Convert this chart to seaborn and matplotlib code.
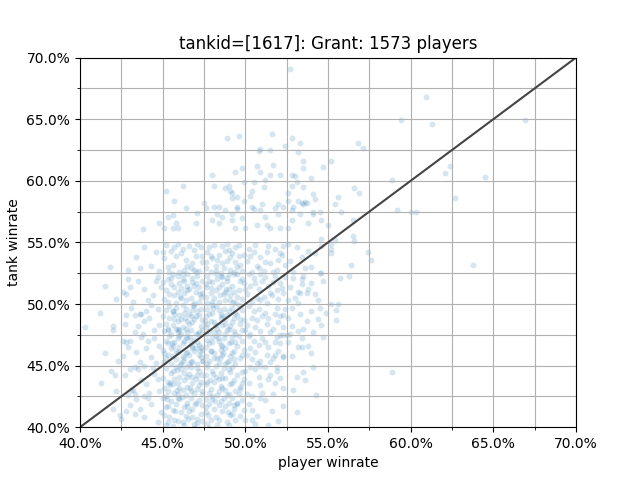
import matplotlib
matplotlib.use("Agg")

import numpy as np
import pandas as pd
import seaborn as sns
from matplotlib import pyplot as plt
from matplotlib.ticker import MultipleLocator, PercentFormatter

tank_id = 1617
tank_name = "Grant"
n_players = 1573
axis_range = (0.40, 0.70)

# sparse points around the cloud (winrates in %)
outer_player = [
    52.7, 60.9, 59.4, 61.3, 66.9, 56.8, 57.1, 62.4, 62.1, 64.5,
    58.9, 56.6, 56.9, 62.7, 59.2, 60.0, 60.3, 55.8, 56.5, 56.5,
    56.6, 55.4, 55.2, 57.4, 57.6, 56.4, 56.3, 55.7, 63.8, 55.2,
    55.6, 55.5, 55.5, 58.9, 51.6, 52.8, 53.3, 52.4, 50.9, 50.8,
    51.5, 53.2, 53.5, 55.2, 50.7, 51.7, 53.5, 54.7, 50.9, 51.5,
    52.1, 52.8, 53.0, 54.0, 50.5, 53.1, 51.1, 52.8, 53.5, 55.6,
    54.2, 52.6, 53.2, 53.6, 55.4, 54.1, 51.8, 52.3, 52.9, 53.5,
    49.6, 48.9, 48.0, 49.8, 49.4, 51.2, 49.9, 50.4, 49.1, 49.2,
    54.1, 50.3, 49.5, 49.9, 49.2, 53.4, 53.7, 52.6, 51.0, 52.0,
    49.5, 49.5, 50.4, 50.5, 50.9, 51.2, 52.0, 52.8, 52.8, 54.5,
    54.1, 53.3, 54.6, 55.0, 53.8, 49.2, 49.2, 49.8, 49.4, 50.0,
    50.7, 51.3, 51.5, 52.1, 52.6, 45.2, 46.2, 45.7, 46.4, 45.6,
    45.3, 44.8, 45.8, 47.5, 48.1, 48.8, 49.0, 47.6, 48.1, 48.4,
    47.1, 48.3, 48.8, 48.6, 48.0, 48.4, 47.0, 45.1, 45.6, 45.9,
    43.8, 54.5, 54.6, 53.4, 53.4, 54.0, 53.2, 53.7, 53.2, 52.8,
    54.0, 54.5, 52.3, 52.6, 54.4, 53.3, 55.2, 55.2, 54.6, 49.5,
    49.3, 49.2, 50.4, 50.0, 50.4, 50.6, 53.2, 53.4, 53.8, 53.1,
    53.5, 54.1, 51.5, 51.8, 51.9, 52.3, 51.8, 52.1, 52.3, 52.5,
    50.9, 50.0, 50.1, 49.8, 49.7, 42.0, 42.1, 42.6, 43.0, 43.6,
    42.4, 42.5, 43.3, 43.6, 43.7, 42.9, 42.6, 43.0, 43.2, 43.3,
    43.0, 43.3, 40.3,
]
outer_tank = [
    69.1, 66.8, 64.9, 64.6, 64.9, 63.1, 62.7, 61.2, 60.6, 60.3,
    60.1, 59.4, 59.0, 58.6, 57.6, 57.5, 57.5, 57.5, 56.8, 55.5,
    55.1, 55.2, 54.1, 54.2, 53.6, 53.2, 52.3, 52.1, 53.2, 50.0,
    50.0, 49.5, 48.7, 44.5, 63.8, 63.5, 63.1, 62.8, 62.6, 62.4,
    62.5, 62.3, 61.6, 61.6, 61.2, 61.3, 61.0, 61.1, 60.7, 60.5,
    60.5, 60.5, 60.4, 60.2, 59.9, 59.9, 59.5, 59.6, 59.5, 58.7,
    58.5, 59.0, 58.4, 58.3, 58.1, 57.5, 57.8, 57.9, 57.9, 58.1,
    63.6, 63.5, 60.5, 61.0, 60.7, 60.1, 59.9, 59.2, 59.2, 59.0,
    58.9, 58.8, 58.7, 58.4, 58.6, 58.2, 58.2, 58.4, 58.1, 58.1,
    57.9, 57.7, 57.9, 57.7, 57.6, 57.1, 57.3, 57.6, 56.8, 57.5,
    57.3, 57.3, 56.8, 56.4, 56.6, 57.3, 56.8, 57.0, 56.2, 56.2,
    56.4, 56.4, 56.2, 56.2, 56.2, 59.2, 59.6, 58.4, 57.8, 57.2,
    57.1, 56.6, 56.6, 58.2, 59.6, 59.4, 59.6, 57.8, 57.9, 57.9,
    57.4, 57.3, 57.6, 57.1, 56.8, 56.6, 56.6, 56.2, 56.2, 56.2,
    56.1, 52.5, 52.5, 52.0, 51.6, 51.7, 51.0, 50.9, 50.1, 49.7,
    49.4, 49.7, 49.1, 48.9, 48.8, 49.2, 54.9, 54.5, 55.3, 42.0,
    41.5, 41.1, 41.4, 40.6, 40.6, 40.3, 46.5, 46.5, 46.6, 44.1,
    44.5, 44.9, 44.2, 43.6, 44.9, 45.8, 45.9, 47.5, 47.5, 47.5,
    45.0, 44.6, 42.7, 43.6, 43.1, 48.2, 44.2, 51.0, 51.4, 52.9,
    41.0, 40.7, 49.1, 49.2, 49.2, 46.5, 47.0, 44.7, 43.0, 42.7,
    41.8, 41.1, 48.1,
]

# dense core, estimated cell by cell (same order in both lists)
core_player = [
    # tank 52.5-55
    41.8,
    43.9, 44.3, 44.8, 43.4, 44.6, 42.9,
    45.2, 45.6, 46.1, 46.7, 47.3, 45.9, 46.4, 47.0, 45.4, 46.9,
    45.8, 47.2, 46.3, 45.1, 46.6, 47.4, 45.5, 46.0, 46.8, 47.1,
    45.3, 46.2, 47.0, 45.7, 46.5, 47.4, 45.0, 46.9,
    47.7, 48.2, 48.6, 49.1, 49.6, 47.9, 48.4, 48.9, 49.4, 49.8,
    47.6, 48.1, 48.7, 49.2, 49.7, 48.0, 48.5, 49.0, 49.5, 47.8,
    48.3, 48.8, 49.3, 49.9, 47.6, 48.6, 49.1, 49.6, 48.2, 48.9,
    49.4, 47.9,
    50.2, 50.7, 51.3, 51.9, 52.3, 50.4, 50.9, 51.5, 52.1, 50.1,
    50.6, 51.1, 51.8, 52.4, 50.3, 50.8, 51.4, 52.0, 50.5, 51.2,
    51.7, 52.2,
    52.7, 53.1, 53.6, 54.2, 52.9, 53.4, 54.0, 54.6, 52.6, 53.8,
    # tank 50-52.5
    41.5, 42.2,
    42.8, 43.5, 44.1, 44.7, 43.9, 44.4, 42.9, 44.9, 43.2, 44.6,
    45.1, 45.5, 45.9, 46.3, 46.8, 47.2, 45.3, 45.7, 46.1, 46.5,
    47.0, 47.4, 45.2, 45.8, 46.2, 46.7, 47.1, 45.4, 46.0, 46.6,
    47.3, 45.6, 46.4, 46.9, 45.0, 45.9, 46.3, 47.2, 45.3, 46.8,
    45.7, 46.1, 46.5, 47.4, 45.5, 46.9, 46.2, 47.0,
    47.6, 48.0, 48.4, 48.9, 49.3, 49.8, 47.7, 48.2, 48.6, 49.1,
    49.5, 47.9, 48.3, 48.8, 49.2, 49.7, 47.6, 48.1, 48.5, 49.0,
    49.4, 49.9, 47.8, 48.7, 49.6, 48.0, 48.4, 48.9, 49.3, 47.7,
    48.6, 49.1, 49.8, 48.2, 47.9, 49.5, 48.8, 49.0,
    50.1, 50.5, 50.9, 51.4, 51.8, 52.3, 50.3, 50.7, 51.2, 51.6,
    52.1, 50.2, 50.8, 51.3, 51.9, 52.4, 50.4, 51.0, 51.5, 52.0,
    50.6, 51.1, 51.7, 52.2, 50.0, 50.9,
    52.7, 53.0, 53.5, 54.2, 52.9, 53.8, 54.7, 52.6, 53.3, 54.4,
    # tank 47.5-50
    41.2, 42.0,
    42.7, 43.1, 43.8, 44.2, 44.7, 43.5, 44.0, 44.5, 42.8, 43.9,
    44.8, 43.3, 44.3,
    45.1, 45.4, 45.8, 46.2, 46.6, 47.0, 47.4, 45.2, 45.6, 46.0,
    46.4, 46.8, 47.2, 45.3, 45.7, 46.1, 46.5, 46.9, 47.3, 45.0,
    45.5, 45.9, 46.3, 46.7, 47.1, 45.2, 45.8, 46.2, 46.6, 47.0,
    47.4, 45.4, 46.0, 46.4, 46.8, 47.2, 45.6, 46.1, 46.9, 45.3,
    45.7, 46.5, 47.3, 45.9, 46.7,
    47.6, 48.0, 48.4, 48.8, 49.2, 49.7, 47.7, 48.1, 48.5, 48.9,
    49.3, 49.8, 47.8, 48.2, 48.6, 49.0, 49.4, 49.9, 47.6, 48.3,
    48.7, 49.1, 49.5, 47.9, 48.4, 48.8, 49.2, 49.6, 47.7, 48.1,
    48.5, 49.0, 49.4, 49.8, 48.0, 48.6, 49.3, 47.8, 48.2, 48.9,
    49.7, 47.6,
    50.1, 50.5, 50.9, 51.4, 51.9, 52.3, 50.3, 50.7, 51.2, 51.7,
    52.1, 50.2, 50.6, 51.0, 51.5, 52.0, 52.4, 50.4, 50.8, 51.3,
    51.8, 50.0,
    52.8, 53.2, 53.7, 54.1, 54.6, 52.7, 53.5, 54.9,
    # tank 45-47.5
    41.5, 42.3,
    42.6, 43.0, 43.6, 44.0, 44.5, 43.4, 43.9, 44.3, 44.8, 42.8,
    43.7, 44.6, 44.1,
    45.1, 45.5, 45.9, 46.3, 46.7, 47.1, 47.4, 45.2, 45.6, 46.0,
    46.4, 46.8, 47.2, 45.3, 45.7, 46.1, 46.5, 46.9, 47.3, 45.0,
    45.4, 45.8, 46.2, 46.6, 47.0, 45.2, 45.9, 46.3, 46.7, 47.1,
    47.4, 45.5, 46.0, 46.4, 46.8, 47.2, 45.6, 46.2, 46.9, 45.3,
    45.8, 46.5, 47.3, 45.1, 46.6,
    47.6, 48.0, 48.4, 48.8, 49.2, 49.7, 47.7, 48.1, 48.5, 48.9,
    49.3, 49.8, 47.8, 48.2, 48.6, 49.0, 49.4, 49.9, 47.6, 48.3,
    48.7, 49.1, 49.5, 47.9, 48.4, 48.8, 49.2, 49.6, 47.7, 48.1,
    48.5, 49.0, 49.4, 49.8, 48.0, 48.6, 49.3, 47.8,
    50.1, 50.5, 50.9, 51.4, 51.9, 52.3, 50.3, 50.7, 51.2, 51.7,
    52.1, 50.2, 50.6, 51.0, 51.5, 52.0, 50.4, 50.8, 51.3, 51.8,
    52.8, 53.4, 54.0, 52.6, 54.7,
    # tank 42.5-45
    41.3, 41.9, 42.2,
    42.7, 43.1, 43.5, 44.0, 44.5, 42.9, 43.7, 44.2, 44.7, 43.3,
    44.4, 43.9, 44.8,
    45.1, 45.5, 45.9, 46.3, 46.7, 47.1, 47.4, 45.2, 45.6, 46.0,
    46.4, 46.8, 47.2, 45.3, 45.7, 46.1, 46.5, 46.9, 47.3, 45.0,
    45.4, 45.8, 46.2, 46.6, 47.0, 45.2, 45.9, 46.3, 46.7, 47.1,
    47.4, 45.6, 46.0, 46.8, 45.3, 46.4, 47.2, 45.7,
    47.6, 48.0, 48.4, 48.8, 49.2, 49.7, 47.7, 48.1, 48.5, 48.9,
    49.3, 49.8, 47.8, 48.2, 48.6, 49.0, 49.4, 49.9, 47.6, 48.3,
    48.7, 49.1, 49.5, 47.9, 48.4, 48.8, 49.2, 49.6, 48.0, 48.6,
    47.7, 49.0,
    50.2, 50.6, 51.0, 51.4, 51.9, 52.3, 50.4, 50.8, 51.2, 51.7,
    52.1, 50.3, 50.9,
    52.9, 53.6, 54.3,
    # tank 40-42.5
    42.0,
    42.8, 43.4, 43.9, 44.3, 44.7, 43.6, 44.1, 44.9,
    45.1, 45.5, 45.9, 46.3, 46.7, 47.1, 47.4, 45.2, 45.6, 46.0,
    46.4, 46.8, 47.2, 45.3, 45.7, 46.1, 46.5, 46.9, 47.3, 45.0,
    45.4, 45.8, 46.2, 46.6, 47.0, 47.4, 45.2, 45.9, 46.3, 46.8,
    45.6, 46.5,
    47.6, 48.0, 48.4, 48.8, 49.2, 49.7, 47.7, 48.1, 48.5, 48.9,
    49.3, 49.8, 47.8, 48.2, 48.6, 49.0, 49.4, 49.9, 47.6, 48.3,
    48.7, 49.1, 49.5, 47.9, 48.4, 49.0,
    50.2, 50.7, 51.2, 51.6, 52.0, 50.9, 51.4, 52.3,
    53.1,
    # just under the axis floor
    45.4, 46.0, 46.9, 47.8, 48.6,
]
core_tank = [
    # tank 52.5-55
    53.0,
    54.6, 53.1, 52.7, 53.8, 54.2, 52.8,
    54.8, 53.2, 54.1, 52.9, 54.6, 54.9, 53.6, 53.9, 52.6, 54.4,
    53.9, 52.7, 52.8, 53.7, 54.7, 53.4, 54.3, 52.6, 53.3, 54.9,
    53.0, 54.5, 52.6, 54.6, 53.1, 53.9, 54.2, 52.8,
    54.2, 53.1, 54.7, 52.8, 53.9, 52.6, 54.0, 53.5, 54.6, 52.7,
    53.4, 54.8, 52.9, 54.1, 53.2, 53.7, 52.5, 54.4, 53.0, 54.6,
    53.6, 54.3, 52.6, 54.0, 52.9, 53.3, 53.8, 54.8, 52.7, 54.9,
    53.4, 53.9,
    54.5, 53.1, 54.2, 52.8, 54.7, 52.6, 53.8, 53.3, 54.1, 53.5,
    54.8, 52.7, 54.5, 53.2, 53.9, 52.9, 54.7, 53.6, 54.2, 53.4,
    52.6, 54.0,
    53.5, 54.6, 52.9, 54.1, 52.6, 53.8, 53.0, 54.7, 54.9, 54.3,
    # tank 50-52.5
    51.5, 50.4,
    50.8, 51.9, 50.3, 52.2, 51.2, 50.7, 52.0, 51.4, 50.2, 51.9,
    50.4, 51.6, 52.3, 50.9, 51.8, 50.2, 52.0, 50.7, 51.3, 52.4,
    51.0, 51.9, 51.1, 50.1, 52.0, 50.5, 52.3, 50.8, 51.7, 51.2,
    50.6, 52.4, 50.3, 51.5, 51.8, 51.0, 51.9, 51.4, 50.2, 52.1,
    51.4, 50.5, 51.1, 50.9, 52.1, 50.1, 52.4, 51.7,
    50.6, 51.8, 50.2, 52.1, 51.0, 50.4, 52.3, 51.1, 51.6, 50.7,
    52.4, 50.9, 52.0, 50.3, 51.5, 51.9, 51.4, 50.5, 52.3, 51.2,
    50.1, 51.7, 51.9, 50.8, 51.1, 50.2, 51.4, 51.9, 52.4, 50.1,
    52.2, 50.3, 52.0, 52.4, 51.3, 50.6, 51.0, 52.4,
    50.8, 52.1, 50.3, 51.5, 52.3, 50.9, 51.5, 50.5, 52.2, 50.7,
    51.7, 52.4, 51.2, 50.1, 51.1, 52.2, 50.2, 51.9, 50.9, 50.4,
    51.7, 50.6, 51.8, 51.3, 51.2, 52.4,
    51.4, 50.5, 52.3, 50.8, 52.1, 51.2, 51.9, 50.3, 50.9, 50.3,
    # tank 47.5-50
    49.3, 47.9,
    48.4, 49.7, 47.6, 48.9, 49.6, 48.2, 49.4, 47.9, 49.1, 48.6,
    48.3, 47.7, 49.9,
    47.8, 48.9, 49.7, 48.1, 49.2, 47.6, 48.7, 49.5, 48.3, 47.9,
    49.6, 48.5, 49.1, 48.0, 49.2, 48.8, 47.7, 49.8, 48.2, 49.0,
    47.6, 48.6, 49.3, 47.9, 49.4, 48.4, 48.0, 49.9, 48.4, 49.0,
    47.9, 49.8, 49.1, 48.0, 49.5, 47.7, 49.4, 47.6, 48.8, 47.9,
    48.8, 48.6, 49.6, 47.7, 49.0,
    48.1, 49.3, 47.7, 48.8, 49.7, 48.4, 49.6, 48.5, 49.2, 47.9,
    48.9, 49.5, 47.8, 49.8, 48.3, 49.4, 47.6, 48.7, 49.0, 48.0,
    49.6, 48.2, 49.1, 48.6, 49.5, 47.6, 48.5, 49.9, 48.4, 47.7,
    48.9, 48.0, 49.3, 47.9, 49.9, 49.0, 47.8, 49.2, 48.3, 49.1,
    48.8, 47.6,
    48.3, 49.4, 47.8, 48.9, 49.7, 48.1, 47.6, 48.7, 49.3, 48.0,
    49.0, 49.8, 48.1, 49.0, 47.7, 48.5, 49.6, 48.9, 49.6, 48.4,
    49.2, 47.9,
    48.2, 47.8, 48.6, 47.7, 48.3, 47.6, 48.0, 49.3,
    # tank 45-47.5
    46.0, 45.4,
    45.8, 47.0, 45.3, 46.4, 47.2, 46.1, 45.0, 45.7, 46.6, 46.9,
    47.3, 45.2, 47.0,
    45.3, 46.4, 47.2, 45.6, 46.8, 45.1, 46.3, 47.0, 45.8, 46.5,
    47.3, 45.4, 46.7, 45.9, 46.9, 45.2, 46.1, 47.1, 45.7, 46.3,
    47.4, 45.5, 46.8, 45.9, 46.4, 45.6, 46.1, 47.0, 45.3, 46.9,
    45.4, 45.1, 47.4, 46.0, 46.6, 45.9, 46.6, 45.4, 46.2, 46.8,
    46.2, 47.2, 46.5, 46.0, 45.1,
    45.8, 46.9, 45.2, 46.4, 47.3, 45.6, 47.1, 46.0, 46.7, 45.3,
    46.2, 47.0, 45.4, 47.4, 45.9, 46.8, 45.1, 46.3, 46.5, 45.6,
    47.2, 45.8, 46.6, 46.2, 47.0, 45.1, 46.0, 47.4, 45.1, 45.6,
    46.3, 45.4, 46.9, 45.9, 47.3, 46.6, 45.5, 46.8,
    45.9, 47.0, 45.4, 46.5, 47.3, 45.7, 46.4, 45.2, 46.9, 45.6,
    46.8, 47.4, 46.1, 47.2, 45.3, 46.2, 45.5, 46.7, 45.9, 46.9,
    45.8, 47.2, 46.0, 46.9, 47.3,
    # tank 42.5-45
    43.6, 44.6, 42.9,
    44.2, 43.0, 44.7, 43.5, 44.3, 42.6, 43.8, 42.8, 43.9, 44.9,
    44.8, 42.5, 42.9,
    43.2, 44.4, 42.7, 43.8, 44.9, 43.1, 44.2, 44.8, 43.5, 44.1,
    42.6, 43.6, 44.6, 42.9, 43.9, 44.7, 43.3, 42.8, 43.7, 44.0,
    43.4, 44.9, 43.0, 44.3, 43.9, 42.5, 43.6, 44.4, 42.9, 44.8,
    42.7, 44.6, 43.2, 44.1, 43.7, 44.9, 43.4, 42.8,
    43.5, 44.6, 42.9, 44.0, 44.9, 43.3, 44.9, 43.7, 44.4, 42.6,
    43.8, 44.5, 42.8, 44.1, 43.2, 44.7, 42.9, 43.9, 44.2, 42.6,
    44.8, 43.5, 44.2, 43.1, 43.9, 43.0, 43.6, 42.7, 42.5, 44.0,
    43.7, 42.7,
    43.6, 44.7, 42.8, 43.9, 44.6, 43.2, 42.5, 44.1, 44.9, 42.7,
    44.0, 44.9, 43.4,
    43.0, 43.8, 42.6,
    # tank 40-42.5
    41.5,
    41.3, 42.3, 40.8, 41.9, 40.4, 41.5, 42.4, 41.2,
    41.0, 42.1, 40.5, 41.6, 42.4, 40.7, 41.8, 40.2, 41.4, 42.3,
    40.9, 41.5, 42.2, 41.7, 40.6, 41.2, 42.0, 40.3, 41.1, 42.4,
    40.8, 41.9, 40.4, 41.3, 42.0, 40.5, 41.6, 42.4, 40.2, 40.8,
    40.1, 41.7,
    41.2, 42.3, 40.6, 41.7, 42.4, 40.9, 40.3, 41.5, 42.1, 40.4,
    41.8, 42.2, 41.9, 40.8, 41.3, 42.0, 40.6, 41.4, 42.3, 40.2,
    42.4, 41.0, 41.9, 40.6, 41.8, 40.2,
    41.9, 40.9, 42.2, 41.3, 40.5, 42.4, 40.2, 41.7,
    41.2,
    # just under the axis floor
    39.8, 39.8, 39.9, 39.9, 39.8,
]

# densest block (player 45-50 %, tank 40-52 %) holds more players than above
dense_player = [
    45.35, 45.75, 46.15, 46.55, 46.95, 47.35, 47.75, 48.15, 48.55, 48.95,
    45.45, 45.85, 46.25, 46.65, 47.05, 47.45, 47.85, 48.25, 48.65, 49.05,
    45.55, 45.95, 46.35, 46.75, 47.15, 47.55, 47.95, 48.35, 48.75, 49.15,
    45.65, 46.05, 46.45, 46.85, 47.25, 47.65, 48.05, 48.45, 48.85, 49.25,
    45.25, 46.45, 47.65, 48.45, 46.05, 47.25, 45.85, 47.05, 48.05, 46.65,
]
dense_tank = [
    40.45, 41.35, 42.45, 40.65, 41.85, 42.95, 40.95, 42.15, 43.35, 41.25,
    43.55, 44.65, 45.75, 43.15, 44.25, 45.35, 43.85, 44.95, 46.05, 44.45,
    46.85, 47.95, 48.85, 46.45, 47.55, 48.65, 46.15, 47.25, 48.35, 46.95,
    49.45, 50.55, 51.45, 49.95, 50.85, 51.65, 49.65, 50.75, 51.25, 50.15,
    42.25, 44.05, 41.65, 45.65, 45.05, 46.15, 43.05, 40.35, 44.35, 47.35,
]

assert len(outer_player) == len(outer_tank)
assert len(core_player) == len(core_tank)
assert len(dense_player) == len(dense_tank)

df = pd.DataFrame({
    "player winrate": np.array(outer_player + core_player + dense_player) / 100,
    "tank winrate": np.array(outer_tank + core_tank + dense_tank) / 100,
})

fig, ax = plt.subplots(figsize=(6.4, 4.8), dpi=100)

sns.scatterplot(data=df, x="player winrate", y="tank winrate",
                color="C0", s=18, alpha=0.18, linewidth=0, ax=ax)

# y = x reference line across the whole view
lo, hi = axis_range
ax.plot([lo, hi], [lo, hi], color="#444444", lw=1.5)

ax.set_xlim(lo, hi)
ax.set_ylim(lo, hi)
for axis in (ax.xaxis, ax.yaxis):
    axis.set_major_locator(MultipleLocator(0.05))
    axis.set_minor_locator(MultipleLocator(0.025))
    axis.set_major_formatter(PercentFormatter(xmax=1, decimals=1))
ax.grid(which="both")

ax.set_title(f"tankid=[{tank_id}]: {tank_name}: {n_players} players")
ax.set_xlabel("player winrate")
ax.set_ylabel("tank winrate")

fig.savefig("out.png", dpi=100)
